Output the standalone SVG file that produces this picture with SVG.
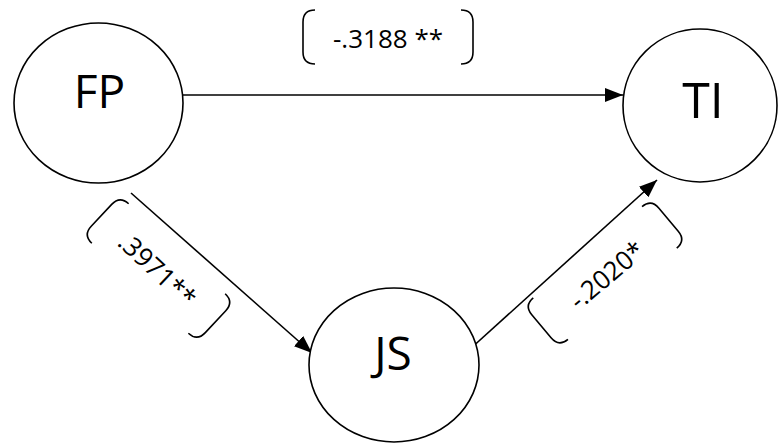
<svg xmlns="http://www.w3.org/2000/svg" width="778" height="443" viewBox="0 0 778 443">
<style>
.node{fill:#fff;stroke:#000;stroke-width:1.6}
.nt{font-family:"Open Sans","Liberation Sans",sans-serif;fill:#000;text-anchor:middle}
.lt{font-family:"Open Sans","Liberation Sans",sans-serif;font-size:26px;fill:#000;text-anchor:middle}
.br{fill:none;stroke:#000;stroke-width:1.6}
.edge{stroke:#000;stroke-width:1.6;fill:none}
</style>
<defs>
<marker id="ah" markerUnits="userSpaceOnUse" markerWidth="18" markerHeight="14" refX="18" refY="7" orient="auto">
<path d="M0,0 L18,7 L0,14 z" fill="#000"/>
</marker>
</defs>
<g id="connectors">
<line class="edge" x1="183" y1="95" x2="623" y2="95" marker-end="url(#ah)"/>
<line class="edge" x1="131" y1="193" x2="312" y2="353" marker-end="url(#ah)"/>
<line class="edge" x1="469" y1="350" x2="657" y2="180" marker-end="url(#ah)"/>
</g>
<g id="node-FP">
<ellipse class="node" cx="98.5" cy="103" rx="84.5" ry="80"/>
<text class="nt" x="99.5" y="108" font-size="46">FP</text>
</g>
<g id="node-TI">
<ellipse class="node" cx="700" cy="105.5" rx="77" ry="76.5"/>
<text class="nt" x="703" y="118" font-size="50">TI</text>
</g>
<g id="node-JS">
<ellipse class="node" cx="394" cy="365" rx="85" ry="77"/>
<text class="nt" x="393" y="370" font-size="46">JS</text>
</g>
<g id="label-FP-TI" transform="translate(388,37)">
<path class="br" d="M-73,-27 Q-85,-27 -85,-15 L-85,15 Q-85,27 -73,27"/>
<path class="br" d="M73,-27 Q85,-27 85,-15 L85,15 Q85,27 73,27"/>
<text class="lt" x="0" y="11">-.3188 **</text>
</g>
<g id="label-FP-JS" transform="translate(158.5,268.5) rotate(43)">
<path class="br" d="M-66,-27 Q-78,-27 -78,-15 L-78,15 Q-78,27 -66,27"/>
<path class="br" d="M66,-27 Q78,-27 78,-15 L78,15 Q78,27 66,27"/>
<text class="lt" x="0" y="11">.3971**</text>
</g>
<g id="label-JS-TI" transform="translate(605,273) rotate(-40)">
<path class="br" d="M-71,-27 Q-83,-27 -83,-15 L-83,15 Q-83,27 -71,27"/>
<path class="br" d="M71,-27 Q83,-27 83,-15 L83,15 Q83,27 71,27"/>
<text class="lt" x="0" y="12">-.2020*</text>
</g>
</svg>
